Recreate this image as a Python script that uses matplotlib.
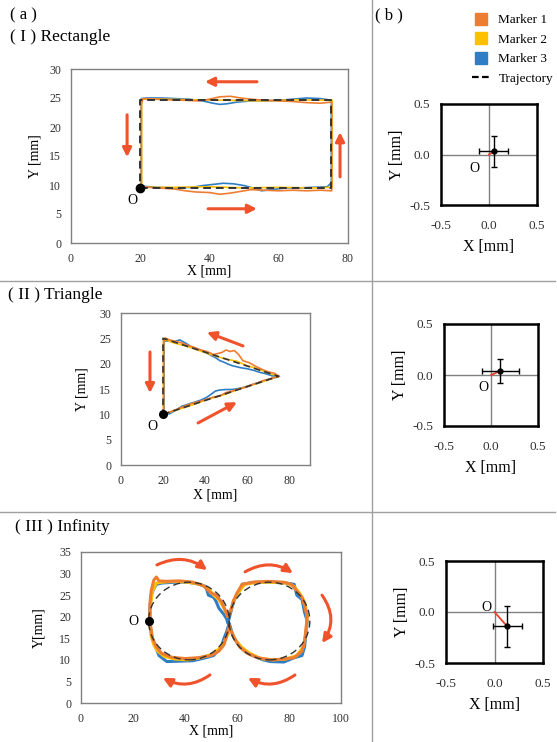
import numpy as np
import matplotlib
matplotlib.use('Agg')
import matplotlib.pyplot as plt
from matplotlib.lines import Line2D
from matplotlib.patches import Ellipse

plt.rcParams['font.family'] = ['Liberation Serif', 'DejaVu Serif']
plt.rcParams['axes.unicode_minus'] = False

# colours
c_m1 = '#ED7D31'
c_m2 = '#FFC000'
c_m3 = '#2E7EC6'
c_arrow = '#F0532B'

# ---------------- data: rectangle ----------------
rect_traj_x = [20, 75, 75, 20, 20]
rect_traj_y = [9.5, 9.5, 24.7, 24.7, 9.5]
rect_m1_x = [20.3, 25, 30, 33, 36, 40, 43, 46, 49, 52, 56, 60, 64, 68, 72, 75.3, 75.3, 72, 68, 64, 60, 56, 52, 49, 46, 43, 40, 37, 33, 28, 24, 20.8, 20.3, 20.3]
rect_m1_y = [9.7, 9.5, 9.3, 9.0, 8.8, 8.7, 8.4, 8.6, 8.9, 9.2, 9.1, 9.0, 9.1, 9.0, 9.1, 9.0, 24.3, 24.1, 24.2, 24.4, 24.5, 24.6, 24.8, 25.0, 25.3, 25.2, 24.8, 24.5, 24.6, 24.7, 24.8, 24.9, 24.0, 9.7]
rect_m2_x = [20.4, 30, 40, 50, 60, 70, 75.4, 75.4, 65, 55, 45, 35, 25, 20.4, 20.4]
rect_m2_y = [9.6, 9.6, 9.7, 9.5, 9.6, 9.5, 9.6, 24.6, 24.7, 24.5, 24.6, 24.7, 24.8, 24.8, 9.6]
rect_m3_x = [20.3, 25, 30, 35, 38, 41, 44, 47, 50, 53, 55, 58, 62, 66, 70, 74, 75.2, 75.2, 72, 68, 64, 60, 56, 52, 48, 45, 43, 41, 38, 34, 30, 26, 22, 20.3, 20.3]
rect_m3_y = [9.8, 9.6, 9.5, 9.6, 9.9, 10.1, 10.3, 10.2, 9.9, 9.4, 9.0, 9.2, 9.5, 9.5, 9.6, 9.7, 10.4, 24.6, 24.9, 25.0, 24.8, 24.6, 24.5, 24.5, 24.3, 24.0, 23.9, 24.1, 24.5, 24.8, 24.9, 25.0, 25.0, 24.9, 9.8]

# ---------------- data: triangle ----------------
tri_traj_x = [20, 75, 20, 20]
tri_traj_y = [10, 17.5, 25, 10]
tri_m1_x = [20.3, 23, 26, 29, 32, 35, 38, 41, 44, 47, 50, 53, 56, 59, 62, 65, 68, 71, 74, 75.5, 73, 70, 67, 64, 61, 58, 56, 54, 52, 50, 48, 46, 44, 41, 38, 35, 32, 29, 26, 23, 21, 20.3, 20.3]
tri_m1_y = [10.0, 10.4, 10.9, 11.4, 11.9, 12.3, 12.6, 13.0, 13.4, 13.6, 14.3, 14.6, 15.0, 15.3, 15.8, 16.2, 16.7, 17.0, 17.4, 17.5, 18.1, 18.4, 18.9, 19.5, 20.2, 20.6, 21.8, 22.6, 22.4, 22.7, 22.2, 22.0, 21.8, 22.4, 22.7, 23.2, 23.6, 24.1, 24.4, 24.7, 25.1, 24.2, 10.0]
tri_m2_x = [20.2, 25, 30, 35, 40, 45, 50, 55, 60, 65, 70, 75, 70, 65, 60, 55, 50, 45, 40, 35, 30, 25, 22, 20.2, 20.2]
tri_m2_y = [10.0, 10.7, 11.3, 12.0, 12.8, 13.4, 14.0, 14.8, 15.5, 16.1, 16.8, 17.5, 18.2, 19.0, 19.6, 20.5, 20.9, 21.5, 22.2, 22.9, 23.6, 24.1, 24.6, 24.6, 10.0]
tri_m3_x = [20.5, 23, 26, 29, 32, 35, 38, 41, 43, 45, 47, 50, 53, 56, 59, 62, 65, 68, 71, 74, 75, 72, 69, 66, 63, 60, 57, 55, 53, 51, 49, 47, 45, 43, 40, 37, 34, 31, 28, 25, 22, 20.5, 20.5]
tri_m3_y = [10.0, 10.1, 10.8, 11.6, 12.0, 12.4, 12.8, 13.4, 14.0, 14.6, 14.8, 14.9, 14.9, 15.1, 15.4, 15.8, 16.2, 16.6, 17.0, 17.3, 17.5, 17.6, 18.0, 18.3, 18.7, 19.0, 19.2, 19.4, 19.6, 19.9, 20.3, 20.6, 21.2, 21.6, 22.3, 22.8, 23.2, 24.0, 24.7, 24.3, 24.5, 24.4, 10.0]

# ---------------- data: infinity ----------------
inf_loop_cx = [41.5, 72.5]
inf_loop_cy = [19, 19]
inf_loop_w = [31, 31]
inf_loop_h = [18, 18]
inf_m1_x = [26.5, 26.5, 27, 28, 29, 30, 33, 38, 43, 47, 50, 52, 54, 55.5, 56.5, 57.5, 58.5, 60, 62, 66, 72, 78, 81, 83, 85, 86, 87, 86.5, 86, 85, 82, 78, 73, 68, 64, 61, 59, 57.5, 57, 56, 55, 53, 50, 45, 40, 35, 31, 29, 27.5, 26.5]
inf_m1_y = [19, 23, 26, 28.5, 29.2, 28.3, 28.2, 28.3, 28.0, 27.2, 25.5, 25.0, 23.5, 21.5, 20.0, 21.0, 23.5, 25.5, 27.5, 28.0, 28.2, 28.0, 27.5, 26.0, 24.5, 22.5, 20.0, 17.0, 14.5, 12.0, 10.5, 10.2, 10.0, 10.5, 11.5, 13.0, 15.0, 17.0, 18.0, 15.5, 13.5, 12.0, 11.0, 10.5, 10.3, 10.6, 11.5, 13.0, 15.0, 19]
inf_m2_x = [26.5, 26.8, 27.5, 29, 31, 36, 41, 46, 49, 51, 53, 55, 56.5, 57.5, 59, 61, 63, 68, 73, 79, 82, 84, 86, 87, 86.5, 85.5, 83, 79, 74, 69, 65, 62, 59.5, 57.5, 56.5, 55, 53, 50, 46, 41, 36, 32, 29.5, 28, 27, 26.5]
inf_m2_y = [19, 23, 26, 27.8, 28.0, 28.2, 28.0, 27.5, 26.5, 25.0, 24.0, 22.0, 20.0, 21.5, 24.0, 26.0, 27.5, 28.0, 28.0, 27.8, 27.0, 25.5, 23.5, 20.0, 16.0, 13.0, 11.0, 10.2, 10.0, 10.3, 11.5, 12.8, 14.5, 17.0, 16.0, 14.0, 12.5, 11.2, 10.5, 10.0, 10.2, 10.8, 12.0, 13.5, 15.5, 19]
inf_m3_x = [26.5, 26.5, 27, 28, 29, 31, 36, 41, 45, 48, 49, 51, 52, 53, 55, 56, 56.5, 58, 59, 61, 62, 67, 73, 79, 82, 83, 85, 86, 87, 86.5, 86, 85, 82, 78, 73, 70, 66, 63, 60, 58.5, 57, 56, 55, 54, 51, 48, 43, 38, 33, 30, 29, 28, 27, 26.5]
inf_m3_y = [19, 22, 25, 26.5, 27.5, 27.8, 28.0, 28.0, 27.6, 27.0, 25.0, 24.5, 23.5, 22.0, 20.5, 19.5, 18.5, 22.0, 24.0, 26.0, 27.5, 28.0, 28.0, 27.8, 27.5, 25.0, 24.0, 21.0, 19.0, 16.0, 13.0, 11.0, 10.5, 9.5, 9.6, 10.0, 11.0, 12.0, 14.0, 15.5, 18.5, 16.5, 15.0, 13.0, 11.0, 10.5, 9.8, 9.7, 9.6, 11.0, 12.5, 14.0, 16.0, 19]

# ---------------- data: (b) mean error ----------------
err_x = [0.05, 0.10, 0.13]
err_y = [0.03, 0.04, -0.14]
err_xe = [0.15, 0.20, 0.15]
err_ye = [0.15, 0.12, 0.20]

W, H = 557, 742
fig = plt.figure(figsize=(W / 100, H / 100), dpi=100)


def px_axes(l, t, r, b):
    return fig.add_axes([l / W, 1 - b / H, (r - l) / W, (b - t) / H])


def style_left(ax, xlim, ylim, xticks, yticks, ylabel, xpad, ypad):
    ax.set_xlim(xlim)
    ax.set_ylim(ylim)
    ax.set_xticks(xticks)
    ax.set_yticks(yticks)
    ax.tick_params(length=0, labelsize=8.5, colors='#303030', pad=7)
    for s in ax.spines.values():
        s.set_color('#808080')
        s.set_linewidth(1.0)
    ax.set_xlabel('X [mm]', fontsize=10, labelpad=xpad)
    ax.set_ylabel(ylabel, fontsize=10, labelpad=ypad)


def draw_markers(ax, m1x, m1y, m2x, m2y, m3x, m3y, lw):
    ax.plot(m3x, m3y, color=c_m3, lw=lw, zorder=2)
    ax.plot(m2x, m2y, color=c_m2, lw=lw, zorder=3)
    ax.plot(m1x, m1y, color=c_m1, lw=lw, zorder=4)


def arrow(ax, x0, y0, x1, y1, rad=0.0):
    ax.annotate('', xy=(x1, y1), xytext=(x0, y0), annotation_clip=False,
                arrowprops=dict(arrowstyle='-|>', color=c_arrow, lw=2.2,
                                mutation_scale=13, shrinkA=0, shrinkB=0,
                                connectionstyle='arc3,rad=%s' % rad))


# (I) rectangle
ax1 = px_axes(71, 69, 348, 243)
draw_markers(ax1, rect_m1_x, rect_m1_y, rect_m2_x, rect_m2_y, rect_m3_x, rect_m3_y, 1.2)
ax1.plot(rect_traj_x, rect_traj_y, color='#333333', lw=1.4, ls=(0, (4, 2.5)), zorder=5)
ax1.plot([20], [9.5], 'o', color='black', ms=6, zorder=6)
ax1.text(17.6, 7.4, 'O', fontsize=10, ha='center', va='center')
arrow(ax1, 53.7, 27.8, 38.7, 27.8)
arrow(ax1, 16.2, 22.1, 16.2, 14.8)
arrow(ax1, 77.7, 11.4, 77.7, 19.1)
arrow(ax1, 39.6, 5.9, 53.7, 5.9)
style_left(ax1, (0, 80), (0, 30), [0, 20, 40, 60, 80], [0, 5, 10, 15, 20, 25, 30], 'Y [mm]', 0, 6)

# (II) triangle
ax2 = px_axes(121, 313, 310, 465)
draw_markers(ax2, tri_m1_x, tri_m1_y, tri_m2_x, tri_m2_y, tri_m3_x, tri_m3_y, 1.2)
ax2.plot(tri_traj_x, tri_traj_y, color='#333333', lw=1.2, ls=(0, (4, 2.5)), zorder=5)
ax2.plot([20], [10], 'o', color='black', ms=5.5, zorder=6)
ax2.text(14.8, 7.5, 'O', fontsize=10, ha='center', va='center')
arrow(ax2, 58.1, 23.5, 40.9, 26.2)
arrow(ax2, 13.8, 22.3, 13.8, 14.2)
arrow(ax2, 36.7, 8.3, 55.2, 12.4)
style_left(ax2, (0, 90), (0, 30), [0, 20, 40, 60, 80], [0, 5, 10, 15, 20, 25, 30], 'Y [mm]', 1, 8)

# (III) infinity
ax3 = px_axes(81, 552, 341, 703)
draw_markers(ax3, inf_m1_x, inf_m1_y, inf_m2_x, inf_m2_y, inf_m3_x, inf_m3_y, 2.2)
for cx, cy, w, h in zip(inf_loop_cx, inf_loop_cy, inf_loop_w, inf_loop_h):
    ax3.add_patch(Ellipse((cx, cy), w, h, fill=False, edgecolor='#333333',
                          lw=1.0, ls=(0, (5, 3)), zorder=5))
ax3.plot([26.2], [19], 'o', color='black', ms=5.5, zorder=6)
ax3.text(20, 18.8, 'O', fontsize=10, ha='center', va='center')
arrow(ax3, 29.2, 32.0, 48.5, 30.8, -0.3)
arrow(ax3, 63.1, 30.4, 81.5, 30.1, -0.3)
arrow(ax3, 92.7, 25.0, 92.7, 13.9, -0.35)
arrow(ax3, 82.3, 6.5, 64.2, 5.8, -0.3)
arrow(ax3, 49.6, 6.5, 31.5, 5.8, -0.3)
style_left(ax3, (0, 100), (0, 35), [0, 20, 40, 60, 80, 100], [0, 5, 10, 15, 20, 25, 30, 35], 'Y[mm]', 0, 10)

# (b) panels
b_boxes = [(441, 104, 537, 205), (444, 324, 538, 426), (446, 561, 543, 663)]
o_pos = [(-0.156, -0.134), (-0.085, -0.127), (-0.088, 0.049)]
for i, box in enumerate(b_boxes):
    ax = px_axes(*box)
    ax.set_xlim(-0.5, 0.5)
    ax.set_ylim(-0.5, 0.5)
    ax.axhline(0, color='#808080', lw=1.0, zorder=1)
    ax.axvline(0, color='#808080', lw=1.0, zorder=1)
    ax.plot([0, err_x[i]], [0, err_y[i]], color='#E8402A', lw=1.3, zorder=2)
    ax.errorbar(err_x[i], err_y[i], xerr=err_xe[i], yerr=err_ye[i], fmt='o',
                color='black', ms=3.5, lw=1.0, capsize=2, capthick=1.0, zorder=3)
    ax.text(o_pos[i][0], o_pos[i][1], 'O', fontsize=10, ha='center', va='center')
    ax.set_xticks([-0.5, 0.0, 0.5])
    ax.set_yticks([-0.5, 0.0, 0.5])
    ax.set_xticklabels(['-0.5', '0.0', '0.5'])
    ax.set_yticklabels(['-0.5', '0.0', '0.5'])
    ax.tick_params(axis='x', length=0, labelsize=9.5, colors='#303030', pad=11)
    ax.tick_params(axis='y', length=0, labelsize=9.5, colors='#303030', pad=8)
    for s in ax.spines.values():
        s.set_color('black')
        s.set_linewidth(1.8)
    ax.set_xlabel('X [mm]', fontsize=11.5, labelpad=5)
    ax.set_ylabel('Y [mm]', fontsize=11.5, labelpad=3)

# legend
handles = [Line2D([], [], ls='none', marker='s', ms=8, color=c_m1),
           Line2D([], [], ls='none', marker='s', ms=8, color=c_m2),
           Line2D([], [], ls='none', marker='s', ms=8, color=c_m3),
           Line2D([], [], color='black', lw=1.6, ls=(0, (3, 1.5)))]
fig.legend(handles, ['Marker 1', 'Marker 2', 'Marker 3', 'Trajectory'],
           loc='upper left', bbox_to_anchor=(472 / W, 1 - 14 / H), frameon=False,
           fontsize=9.5, handlelength=1.4, handletextpad=0.6, labelspacing=0.55,
           borderaxespad=0, borderpad=0)

# panel titles
fig.text(10 / W, 1 - 15 / H, '( a )', fontsize=12, va='center')
fig.text(10 / W, 1 - 37 / H, '( I ) Rectangle', fontsize=12.5, va='center')
fig.text(375 / W, 1 - 15 / H, '( b )', fontsize=12, va='center')
fig.text(8 / W, 1 - 295 / H, '( II ) Triangle', fontsize=12.5, va='center')
fig.text(15 / W, 1 - 527 / H, '( III ) Infinity', fontsize=12.5, va='center')

# separators
fig.add_artist(Line2D([372 / W, 372 / W], [0, 1], color='#a0a0a0', lw=1.0))
fig.add_artist(Line2D([0, 555 / W], [1 - 281 / H, 1 - 281 / H], color='#a0a0a0', lw=1.0))
fig.add_artist(Line2D([0, 555 / W], [1 - 512 / H, 1 - 512 / H], color='#a0a0a0', lw=1.0))

fig.savefig('out.png', dpi=100)
